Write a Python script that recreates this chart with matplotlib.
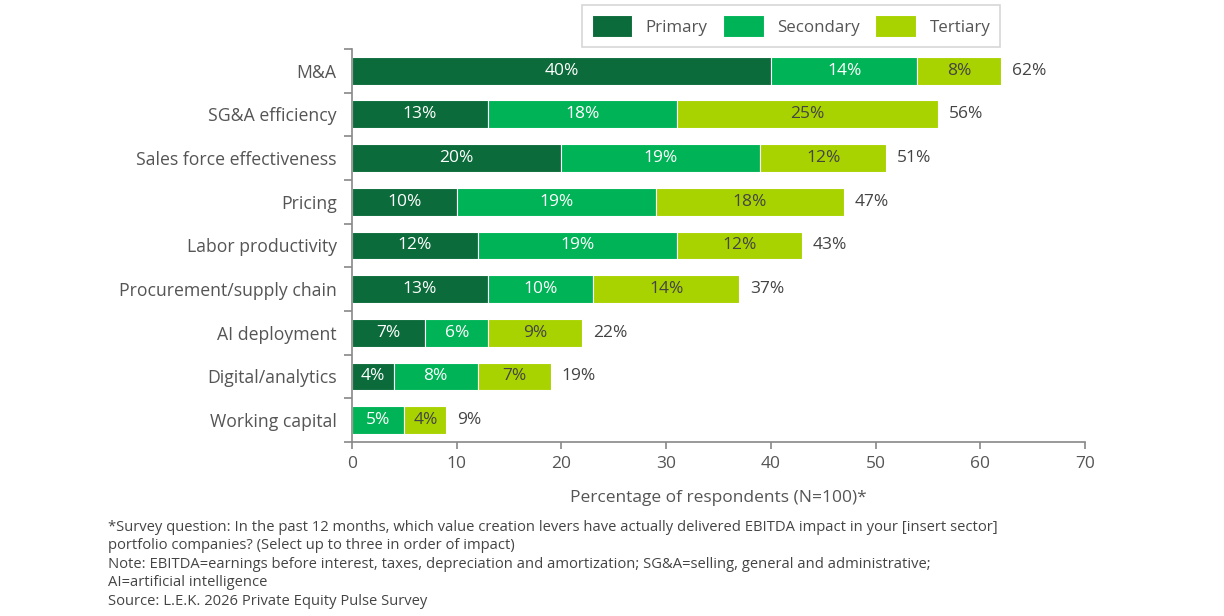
import matplotlib.pyplot as plt
import numpy as np

plt.rcParams['font.family'] = ['Open Sans', 'DejaVu Sans']

categories = ['M&A', 'SG&A efficiency', 'Sales force effectiveness', 'Pricing',
              'Labor productivity', 'Procurement/supply chain', 'AI deployment',
              'Digital/analytics', 'Working capital']
primary = [40, 13, 20, 10, 12, 13, 7, 4, 0]
secondary = [14, 18, 19, 19, 19, 10, 6, 8, 5]
tertiary = [8, 25, 12, 18, 12, 14, 9, 7, 4]
totals = [62, 56, 51, 47, 43, 37, 22, 19, 9]
series_names = ['Primary', 'Secondary', 'Tertiary']

colors = ['#0b6b3a', '#00b356', '#a9d300']
text_colors = ['white', 'white', '#444444']
grey = '#555555'
axis_grey = '#888888'

footnote = ("*Survey question: In the past 12 months, which value creation levers have actually delivered EBITDA impact in your [insert sector]\n"
            "portfolio companies? (Select up to three in order of impact)\n"
            "Note: EBITDA=earnings before interest, taxes, depreciation and amortization; SG&A=selling, general and administrative;\n"
            "AI=artificial intelligence\n"
            "Source: L.E.K. 2026 Private Equity Pulse Survey")

fig = plt.figure(figsize=(12.24, 6.16), dpi=100)
ax = fig.add_axes([0.2876, 0.2825, 0.5988, 0.638])

y = np.arange(len(categories))
left = np.zeros(len(categories))
handles = []
for vals, name, col, tcol in zip([primary, secondary, tertiary], series_names, colors, text_colors):
    vals = np.array(vals, dtype=float)
    bars = ax.barh(y, vals, left=left, height=0.64, color=col, edgecolor='white',
                   linewidth=0.8, label=name)
    handles.append(bars)
    for yi, l, v in zip(y, left, vals):
        if v > 0:
            ax.text(l + v / 2, yi, f'{int(v)}%', ha='center', va='center',
                    color=tcol, fontsize=12.5)
    left += vals

for yi, t in zip(y, totals):
    ax.text(t + 1, yi, f'{t}%', ha='left', va='center', color='#444444', fontsize=12.5)

ax.set_ylim(len(categories) - 0.5, -0.5)
ax.set_xlim(0, 70)
ax.set_xticks(range(0, 71, 10))
ax.set_yticks(y)
ax.set_yticklabels(categories)
ax.set_yticks(np.arange(-0.5, len(categories), 1), minor=True)
ax.tick_params(axis='y', which='major', length=0, pad=11, labelsize=12.7, labelcolor=grey)
ax.tick_params(axis='y', which='minor', length=6, color=axis_grey, width=1.2)
ax.tick_params(axis='x', length=5, color=axis_grey, width=1.2, labelsize=12.5,
               labelcolor=grey, pad=5)

for s in ['top', 'right']:
    ax.spines[s].set_visible(False)
for s in ['left', 'bottom']:
    ax.spines[s].set_color(axis_grey)
    ax.spines[s].set_linewidth(1.2)

ax.set_xlabel('Percentage of respondents (N=100)*', fontsize=12.5, color=grey, labelpad=13)

leg = fig.legend(handles=handles, loc='center', bbox_to_anchor=(791 / 1224, 1 - 26 / 616),
                 ncol=3, frameon=True, fontsize=12.2, handlelength=2.4, handleheight=1.7,
                 columnspacing=0.9, handletextpad=0.8, borderpad=0.55, fancybox=False)
leg.get_frame().set_edgecolor('#cccccc')
leg.get_frame().set_linewidth(1.2)
for t in leg.get_texts():
    t.set_color(grey)

fig.text(108 / 1224, 1 - 520 / 616, footnote, ha='left', va='top', fontsize=10.6,
         color='#444444', linespacing=1.31)

fig.savefig('out.png', dpi=100, facecolor='white')
